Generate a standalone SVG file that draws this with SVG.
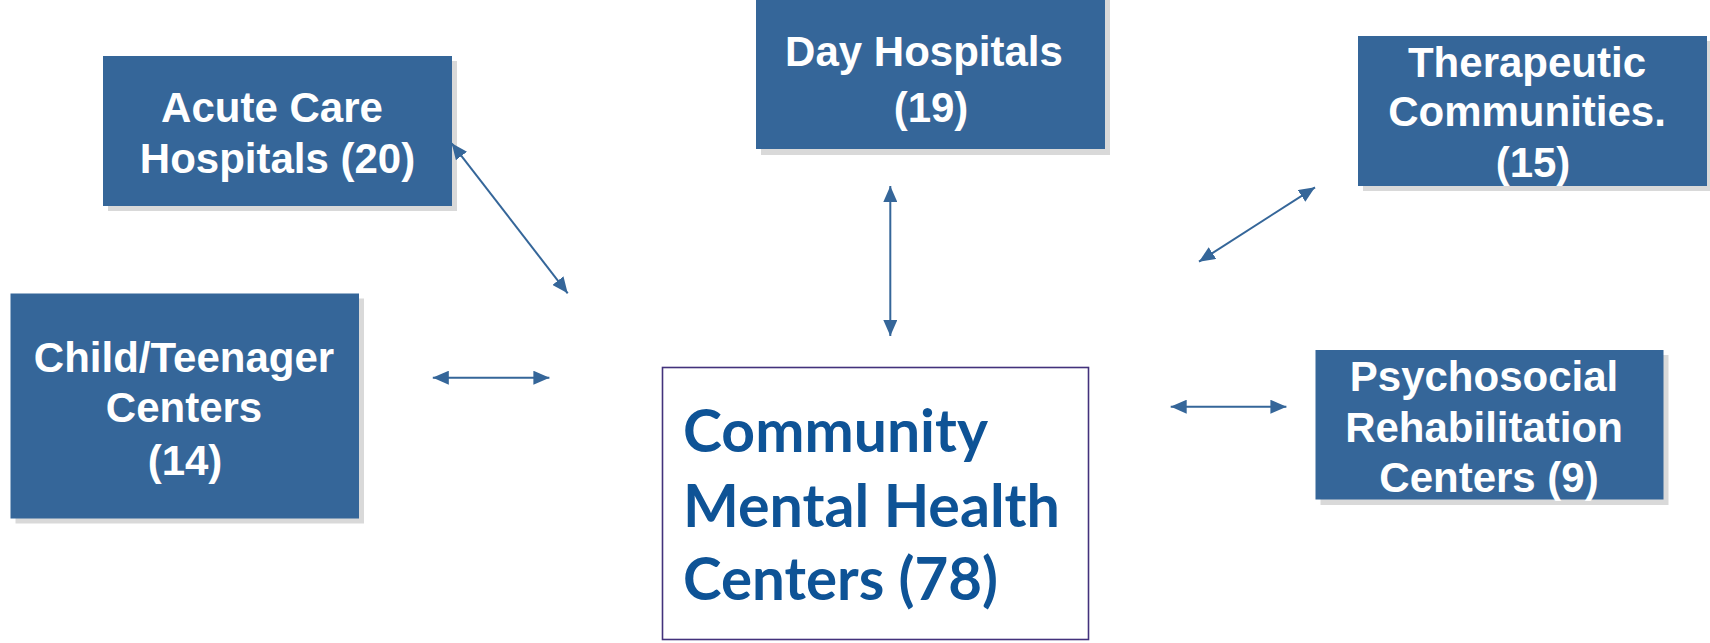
<svg xmlns="http://www.w3.org/2000/svg" width="1710" height="643" viewBox="0 0 1710 643">
<defs>
<style>
.box{fill:#356699}
.sh{fill:#d9d9d9}
.t{font-family:"Liberation Sans",Arial,sans-serif;font-weight:bold;font-size:42px;fill:#ffffff;text-anchor:middle}
.c{font-family:"Lato","Open Sans",sans-serif;font-weight:bold;font-size:60px;fill:#0e5396}
.cn{stroke:#356699;stroke-width:2;fill:none;marker-start:url(#ah);marker-end:url(#ah)}
</style>
<marker id="ah" viewBox="0 0 16 14" refX="16" refY="7" markerWidth="16" markerHeight="14" markerUnits="userSpaceOnUse" orient="auto-start-reverse">
<path d="M0,0 L16,7 L0,14 z" fill="#356699"/>
</marker>
</defs>
<rect width="1710" height="643" fill="#ffffff"/>
<g id="acute">
<rect class="sh" x="108" y="61" width="349" height="150"/>
<rect class="box" x="103" y="56" width="349" height="150"/>
<text class="t" x="272" y="121.7">Acute Care</text>
<text class="t" x="277.5" y="173.3">Hospitals (20)</text>
</g>
<g id="day">
<rect class="sh" x="761" y="0" width="349" height="155"/>
<rect class="box" x="756" y="-5" width="349" height="154"/>
<text class="t" x="924" y="66">Day Hospitals</text>
<text class="t" x="931" y="121.7">(19)</text>
</g>
<g id="therapeutic">
<rect class="sh" x="1363" y="41" width="349" height="150"/>
<rect class="box" x="1358" y="36" width="349" height="150"/>
<text class="t" x="1527" y="76.7">Therapeutic</text>
<text class="t" x="1527" y="126">Communities.</text>
<text class="t" x="1533" y="176.7">(15)</text>
</g>
<g id="child">
<rect class="sh" x="15.5" y="298.5" width="348.5" height="225"/>
<rect class="box" x="10.5" y="293.5" width="348.5" height="225"/>
<text class="t" x="184" y="371.7">Child/Teenager</text>
<text class="t" x="184" y="421.7">Centers</text>
<text class="t" x="185" y="475">(14)</text>
</g>
<g id="psychosocial">
<rect class="sh" x="1320.5" y="355" width="348" height="150"/>
<rect class="box" x="1315.5" y="350" width="348" height="149.5"/>
<text class="t" x="1484" y="390.7">Psychosocial</text>
<text class="t" x="1484" y="441.7">Rehabilitation</text>
<text class="t" x="1489" y="491.7">Centers (9)</text>
</g>
<g id="cmhc">
<rect x="662.5" y="367.5" width="426" height="272" fill="#ffffff" stroke="#43327c" stroke-width="1.6"/>
<text class="c" x="683" y="451.7" textLength="305" lengthAdjust="spacingAndGlyphs">Community</text>
<text class="c" x="683" y="526.7" textLength="377" lengthAdjust="spacingAndGlyphs">Mental Health</text>
<text class="c" x="683" y="600" textLength="315" lengthAdjust="spacingAndGlyphs">Centers (78)</text>
</g>
<g id="connectors">
<line class="cn" x1="451.7" y1="143.3" x2="567.7" y2="293.3"/>
<line class="cn" x1="890.3" y1="186" x2="890.3" y2="336"/>
<line class="cn" x1="1315" y1="187.3" x2="1199" y2="261.7"/>
<line class="cn" x1="432.8" y1="377.7" x2="549.4" y2="377.7"/>
<line class="cn" x1="1170.7" y1="406.7" x2="1286.4" y2="406.7"/>
</g>
</svg>
